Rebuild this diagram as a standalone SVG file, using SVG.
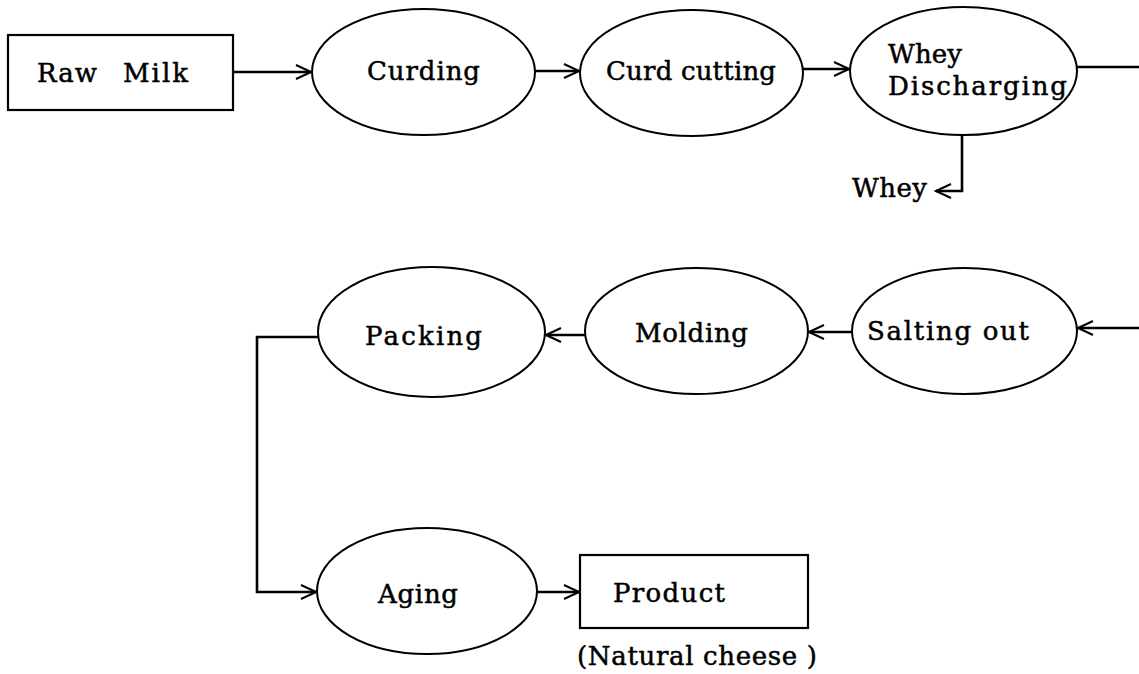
<svg xmlns="http://www.w3.org/2000/svg" width="1139" height="674" viewBox="0 0 1139 674">
<style>
.box{fill:#fff;stroke:#000;stroke-width:2.2}
.ell{fill:#fff;stroke:#000;stroke-width:2}
.t{font-family:"DejaVu Serif","Liberation Serif",serif;font-size:26px;fill:#000;stroke:#000;stroke-width:0.5}
.ln{fill:none;stroke:#000;stroke-width:2.6}
</style>
<defs>
<marker id="ah" markerUnits="userSpaceOnUse" markerWidth="18" markerHeight="16" refX="16" refY="8" orient="auto">
<path d="M1,1 L16,8 L1,15" fill="none" stroke="#000" stroke-width="2"/>
</marker>
</defs>
<rect width="1139" height="674" fill="#fff"/>
<g id="connectors">
<path class="ln" d="M233,72 L311,72" marker-end="url(#ah)"/>
<path class="ln" d="M535,71 L579,71" marker-end="url(#ah)"/>
<path class="ln" d="M803,69 L849,69" marker-end="url(#ah)"/>
<path class="ln" d="M1077,67 L1139,67"/>
<path class="ln" d="M962,135 L962,191 L936,191" marker-end="url(#ah)"/>
<path class="ln" d="M1139,328 L1078,328" marker-end="url(#ah)"/>
<path class="ln" d="M852,332 L809,332" marker-end="url(#ah)"/>
<path class="ln" d="M585,335 L546,335" marker-end="url(#ah)"/>
<path class="ln" d="M318,337 L257,337 L257,592 L316,592" marker-end="url(#ah)"/>
<path class="ln" d="M537,592 L579,592" marker-end="url(#ah)"/>
</g>
<g id="raw-milk">
<rect class="box" x="8" y="35" width="225" height="75"/>
<text class="t" y="82"><tspan x="37" textLength="60" lengthAdjust="spacing">Raw</tspan><tspan x="123" textLength="65" lengthAdjust="spacing">Milk</tspan></text>
</g>
<g id="curding">
<ellipse class="ell" cx="423.5" cy="72" rx="111.5" ry="63"/>
<text class="t" x="367" y="80" textLength="113" lengthAdjust="spacing">Curding</text>
</g>
<g id="curd-cutting">
<ellipse class="ell" cx="691.5" cy="73" rx="111.5" ry="63"/>
<text class="t" x="606" y="80" textLength="170" lengthAdjust="spacing">Curd cutting</text>
</g>
<g id="whey-discharging">
<ellipse class="ell" cx="963.5" cy="71" rx="113.5" ry="64"/>
<text class="t" x="888" y="63" textLength="74" lengthAdjust="spacing">Whey</text>
<text class="t" x="888" y="95" textLength="179" lengthAdjust="spacing">Discharging</text>
</g>
<g id="whey-out">
<text class="t" x="852" y="197" textLength="75" lengthAdjust="spacing">Whey</text>
</g>
<g id="salting-out">
<ellipse class="ell" cx="964.5" cy="331" rx="112.5" ry="63"/>
<text class="t" x="867" y="340" textLength="162" lengthAdjust="spacing">Salting out</text>
</g>
<g id="molding">
<ellipse class="ell" cx="696.5" cy="331" rx="111.5" ry="63"/>
<text class="t" x="635" y="342" textLength="113" lengthAdjust="spacing">Molding</text>
</g>
<g id="packing">
<ellipse class="ell" cx="431.5" cy="332" rx="113.5" ry="65"/>
<text class="t" x="365" y="345" textLength="117" lengthAdjust="spacing">Packing</text>
</g>
<g id="aging">
<ellipse class="ell" cx="427" cy="591" rx="110" ry="63"/>
<text class="t" x="378" y="603" textLength="80" lengthAdjust="spacing">Aging</text>
</g>
<g id="product">
<rect class="box" x="580" y="555" width="228" height="73"/>
<text class="t" x="613" y="602" textLength="112" lengthAdjust="spacing">Product</text>
<text class="t" x="577" y="665" textLength="240" lengthAdjust="spacing">(Natural cheese )</text>
</g>
</svg>
